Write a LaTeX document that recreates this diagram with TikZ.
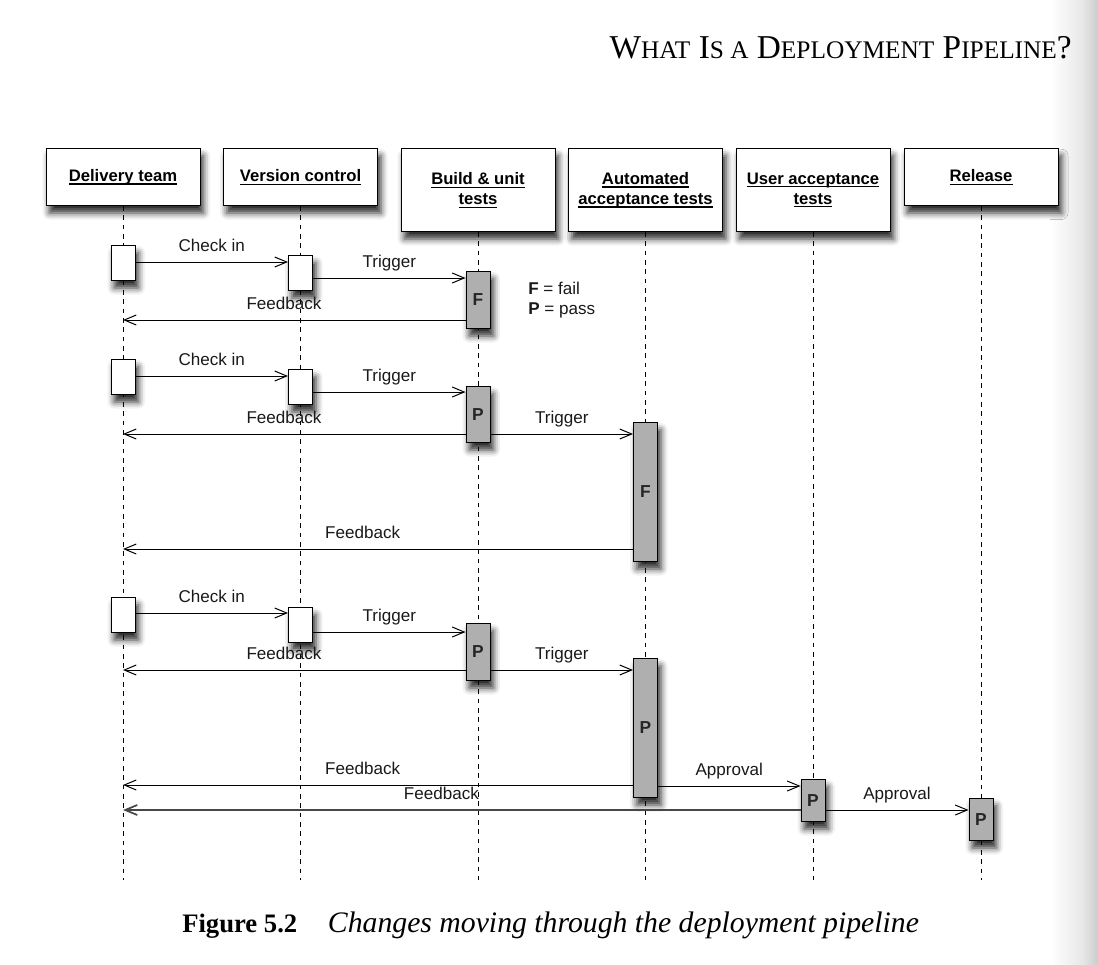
\documentclass[tikz,border=0pt]{standalone}
\usepackage{fontspec}
\setmainfont{Liberation Serif}
\newfontfamily\diagfont{Liberation Sans}
\usetikzlibrary{arrows.meta,shadows.blur,positioning}

\definecolor{runfill}{RGB}{175,175,175}
\newsavebox\hdulbox
\newcommand{\hdul}[1]{\sbox\hdulbox{#1}\rlap{\rule[-2.4pt]{\wd\hdulbox}{0.8pt}}\usebox\hdulbox}
\newcommand{\hdbig}[1]{{\fontsize{25}{30}\selectfont #1}}
\newcommand{\hdsmall}[1]{{\fontsize{19}{22}\selectfont #1}}

\tikzset{
  softshadow/.style={blur shadow={shadow xshift=2.5pt,shadow yshift=-5.5pt,shadow blur radius=5pt,shadow opacity=85}},
  headbox/.style={draw,fill=white,line width=0.75pt,anchor=north,minimum width=115.5pt,minimum height=42.75pt,
    align=center,font=\diagfont\bfseries\fontsize{12.5}{15}\selectfont,softshadow},
  tallbox/.style={headbox,minimum height=62.25pt},
  lifeline/.style={line width=0.75pt,dash pattern=on 3.5pt off 3.5pt},
  devbox/.style={draw,fill=white,line width=0.75pt,anchor=north,inner sep=0pt,minimum width=18pt,
    minimum height=26.25pt,font=\diagfont\bfseries\fontsize{13}{15}\selectfont,softshadow},
  runbox/.style={devbox,fill=runfill,text=black!85},
  msg/.style={line width=0.75pt,-{Straight Barb[length=9pt,width=7.5pt]}},
  backmsg/.style={msg,line width=1.3pt,draw=black!72},
  msglabel/.style={font=\diagfont\fontsize{12.8}{15}\selectfont,text=black!90,inner sep=0pt,
    text height=9pt,text depth=2.6pt,above=4.9pt},
  keytext/.style={font=\diagfont\fontsize{12.8}{15}\selectfont,text=black!90,inner sep=0pt,anchor=west,align=left},
  fbpos/.style={pos=0.53}
}

\begin{document}
\begin{tikzpicture}[x=0.75pt,y=-0.75pt]
\useasboundingbox (0,0) rectangle (1098,964);
\shade[left color=white,right color=black!9] (1050,0) rectangle (1082,964);
\shade[left color=black!9,right color=black!20] (1082,0) rectangle (1098,964);

\node[anchor=base east,inner sep=0pt,font=\fontsize{25}{30}\selectfont] (pagehead) at (1072,58)
  {\hdbig{W}\hdsmall{HAT} \hdbig{I}\hdsmall{S A} \hdbig{D}\hdsmall{EPLOYMENT} \hdbig{P}\hdsmall{IPELINE}\hdbig{?}};
\node[anchor=base west,inner sep=0pt,font=\fontsize{20}{24}\selectfont] (caption) at (182,932)
  {\textbf{Figure 5.2}\hspace{23pt}{\fontsize{22.3}{26}\selectfont\itshape Changes moving through the deployment pipeline}};

\node[headbox] (dt) at (123,148) {\hdul{Delivery team}};
\node[headbox] (vc) at (300.5,148) {\hdul{Version control}};
\node[tallbox] (bu) at (478,148) {\hdul{Build \& unit}\\\hdul{tests}};
\node[tallbox] (au) at (645.5,148) {\hdul{Automated}\\\hdul{acceptance tests}};
\node[tallbox] (ua) at (813,148) {\hdul{User acceptance}\\\hdul{tests}};
\node[headbox] (re) at (981,148) {\hdul{Release}};

\foreach \n in {dt,vc,bu,au,ua,re}
  \draw[lifeline] (\n.south) -- (\n.south |- 0,880);

\node[keytext] (key) at (528,300) {\textbf{F} = fail\\\textbf{P} = pass};

% first change: unit tests fail
\node[devbox] (dt1) at (123,245) {};
\node[devbox] (vc1) at (300.5,255) {};
\node[runbox,minimum height=42.75pt] (bu1) at (478,271) {F};
\draw[msg] (dt1.east |- 0,262) -- (vc1.west |- 0,262) node[msglabel,midway] {Check in};
\draw[msg] (vc1.east |- 0,278) -- (bu1.west |- 0,278) node[msglabel,midway] {Trigger};
\draw[msg] (bu1.west |- 0,320) -- (dt |- 0,320) node[msglabel,fbpos] {Feedback};

% second change: acceptance tests fail
\node[devbox] (dt2) at (123,359) {};
\node[devbox] (vc2) at (300.5,369) {};
\node[runbox,minimum height=42pt] (bu2) at (478,386) {P};
\node[runbox,minimum height=104.25pt] (au2) at (645.5,422) {F};
\draw[msg] (dt2.east |- 0,376) -- (vc2.west |- 0,376) node[msglabel,midway] {Check in};
\draw[msg] (vc2.east |- 0,392) -- (bu2.west |- 0,392) node[msglabel,midway] {Trigger};
\draw[msg] (bu2.west |- 0,434) -- (dt |- 0,434) node[msglabel,fbpos] {Feedback};
\draw[msg] (bu2.east |- 0,434) -- (au2.west |- 0,434) node[msglabel,midway] {Trigger};
\draw[msg] (au2.west |- 0,549) -- (dt |- 0,549) node[msglabel,fbpos] {Feedback};

% third change: all the way to release
\node[devbox] (dt3) at (123,597) {};
\node[devbox] (vc3) at (300.5,607) {};
\node[runbox,minimum height=42.75pt] (bu3) at (478,623) {P};
\node[runbox,minimum height=104.25pt] (au3) at (645.5,658) {P};
\node[runbox,minimum height=31.5pt] (ua3) at (813,779) {P};
\node[runbox,minimum height=31.5pt] (re3) at (981,798) {P};
\draw[msg] (dt3.east |- 0,613) -- (vc3.west |- 0,613) node[msglabel,midway] {Check in};
\draw[msg] (vc3.east |- 0,632) -- (bu3.west |- 0,632) node[msglabel,midway] {Trigger};
\draw[msg] (bu3.west |- 0,670) -- (dt |- 0,670) node[msglabel,fbpos] {Feedback};
\draw[msg] (bu3.east |- 0,670) -- (au3.west |- 0,670) node[msglabel,midway] {Trigger};
\draw[msg] (au3.west |- 0,785) -- (dt |- 0,785) node[msglabel,fbpos] {Feedback};
\draw[msg] (au3.east |- 0,786) -- (ua3.west |- 0,786) node[msglabel,midway] {Approval};
\draw[backmsg] (ua3.west |- 0,810) -- (dt |- 0,810) node[msglabel,fbpos] {Feedback};
\draw[msg] (ua3.east |- 0,810) -- (re3.west |- 0,810) node[msglabel,midway] {Approval};
\end{tikzpicture}
\end{document}
